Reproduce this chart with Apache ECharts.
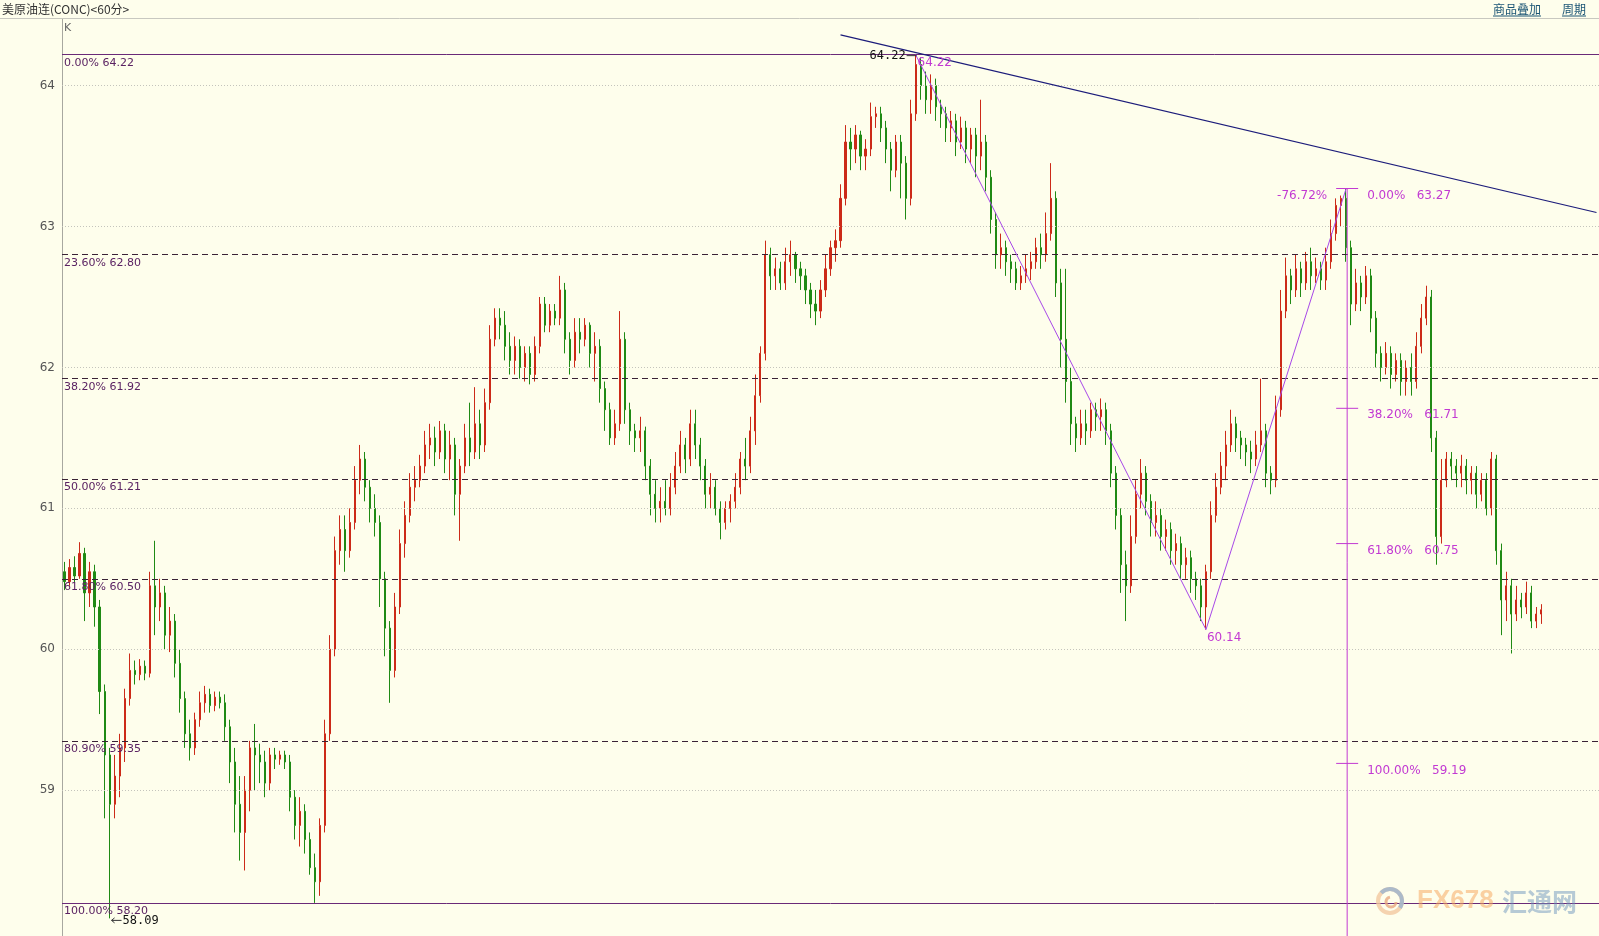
<!DOCTYPE html>
<html><head><meta charset="utf-8">
<script src="https://cdn.jsdelivr.net/npm/echarts@6/dist/echarts.min.js"></script>
<style>html,body{margin:0;padding:0;background:#fefeec;}#c{width:1599px;height:936px;}</style>
</head><body><div id="c"></div><script>
const title = '美原油连(CONC)<60分>';
const headerLinks = ['商品叠加', '周期'];
const yTicks = [59, 60, 61, 62, 63, 64];
const fibLevels = [64.22, 62.80, 61.92, 61.21, 60.50, 59.35, 58.20];
const fibPcts = ['0.00%', '23.60%', '38.20%', '50.00%', '61.80%', '80.90%', '100.00%'];
const fib2Levels = [63.27, 61.71, 60.75, 59.19];
const fib2Pcts = ['0.00%', '38.20%', '61.80%', '100.00%'];
const fib2Extra = '-76.72%';
const zigzag = [[170, 64.22], [228, 60.14], [256, 63.27]];
const trendLine = [[155, 64.36], [306, 63.10]];
const lowMark = [9, 58.09];
const peakMark = [170, 64.22];
const swingLow = [228, 60.14];
const padSlots = 11;
// [open, close, low, high]
const candles = [
[60.55,60.48,60.42,60.62],[60.48,60.58,60.45,60.64],[60.58,60.52,60.47,60.66],[60.52,60.68,60.50,60.76],[60.68,60.40,60.20,60.72],[60.40,60.55,60.30,60.62],[60.55,60.30,60.16,60.60],[60.30,59.70,59.54,60.35],
[59.70,59.25,58.80,59.75],[59.25,58.90,58.09,59.30],[58.90,59.10,58.80,59.25],[59.10,59.30,58.95,59.40],[59.30,59.65,59.20,59.72],[59.65,59.85,59.60,59.97],[59.85,59.82,59.75,59.92],[59.82,59.88,59.78,59.93],
[59.88,59.83,59.78,59.92],[59.83,60.45,59.80,60.55],[60.45,60.30,60.10,60.77],[60.30,60.40,60.20,60.50],[60.40,60.10,60.00,60.45],[60.10,60.20,59.98,60.30],[60.20,59.90,59.80,60.25],[59.90,59.65,59.55,60.00],
[59.65,59.40,59.30,59.70],[59.40,59.30,59.21,59.50],[59.30,59.50,59.25,59.55],[59.50,59.62,59.45,59.70],[59.62,59.68,59.55,59.74],[59.68,59.60,59.55,59.72],[59.60,59.66,59.56,59.70],[59.66,59.62,59.58,59.70],
[59.62,59.45,59.35,59.68],[59.45,59.20,59.05,59.50],[59.20,58.90,58.70,59.30],[58.90,58.70,58.50,59.10],[58.70,59.00,58.43,59.10],[59.00,59.30,58.85,59.35],[59.30,59.25,59.00,59.47],[59.25,59.20,59.05,59.33],
[59.20,59.05,58.95,59.28],[59.05,59.25,59.00,59.30],[59.25,59.22,59.15,59.30],[59.22,59.25,59.18,59.28],[59.25,59.20,59.15,59.28],[59.20,58.95,58.85,59.25],[58.95,58.75,58.65,59.00],[58.75,58.85,58.60,58.95],
[58.85,58.65,58.55,58.90],[58.65,58.45,58.40,58.70],[58.45,58.35,58.20,58.55],[58.35,58.75,58.25,58.80],[58.75,59.40,58.70,59.50],[59.40,60.00,59.35,60.10],[60.00,60.70,59.95,60.80],[60.70,60.85,60.60,60.95],
[60.85,60.70,60.55,60.95],[60.70,60.90,60.65,61.00],[60.90,61.20,60.85,61.30],[61.20,61.35,61.10,61.45],[61.35,61.15,61.05,61.40],[61.15,61.00,60.90,61.20],[61.00,60.90,60.80,61.10],[60.90,60.50,60.30,60.95],
[60.50,60.15,59.95,60.55],[60.15,59.85,59.62,60.20],[59.85,60.30,59.80,60.40],[60.30,60.75,60.25,60.85],[60.75,60.95,60.65,61.05],[60.95,61.15,60.90,61.25],[61.15,61.20,61.05,61.30],[61.20,61.30,61.15,61.38],
[61.30,61.45,61.25,61.55],[61.45,61.50,61.35,61.60],[61.50,61.40,61.30,61.58],[61.40,61.55,61.35,61.62],[61.55,61.35,61.25,61.60],[61.35,61.45,61.20,61.55],[61.45,61.10,60.95,61.50],[61.10,61.30,60.77,61.35],
[61.30,61.50,61.25,61.60],[61.50,61.40,61.30,61.75],[61.40,61.60,61.35,61.86],[61.60,61.45,61.35,61.70],[61.45,61.75,61.40,61.85],[61.75,62.20,61.70,62.30],[62.20,62.35,62.15,62.42],[62.35,62.30,62.20,62.42],
[62.30,62.15,62.05,62.40],[62.15,62.05,61.95,62.25],[62.05,62.15,61.95,62.22],[62.15,62.00,61.92,62.20],[62.00,62.10,61.90,62.15],[62.10,61.95,61.88,62.15],[61.95,62.15,61.90,62.22],[62.15,62.45,62.10,62.50],
[62.45,62.30,62.25,62.50],[62.30,62.40,62.25,62.45],[62.40,62.35,62.30,62.45],[62.35,62.55,62.30,62.65],[62.55,62.20,62.10,62.60],[62.20,62.05,61.95,62.25],[62.05,62.25,62.00,62.35],[62.25,62.20,62.10,62.35],
[62.20,62.30,62.15,62.35],[62.30,62.10,62.00,62.32],[62.10,62.15,61.90,62.25],[62.15,61.85,61.75,62.20],[61.85,61.70,61.55,61.90],[61.70,61.50,61.45,61.75],[61.50,61.60,61.45,61.70],[61.60,62.20,61.55,62.40],
[62.20,61.70,61.60,62.25],[61.70,61.55,61.45,61.75],[61.55,61.50,61.40,61.60],[61.50,61.55,61.40,61.65],[61.55,61.30,61.20,61.58],[61.30,61.10,60.95,61.35],[61.10,61.00,60.90,61.20],[61.00,61.05,60.90,61.15],
[61.05,61.00,60.95,61.20],[61.00,61.15,60.95,61.25],[61.15,61.30,61.10,61.40],[61.30,61.45,61.25,61.55],[61.45,61.35,61.25,61.50],[61.35,61.60,61.30,61.70],[61.60,61.45,61.35,61.70],[61.45,61.30,61.20,61.50],
[61.30,61.10,61.00,61.35],[61.10,61.15,61.00,61.25],[61.15,61.00,60.95,61.20],[61.00,60.90,60.78,61.05],[60.90,61.00,60.85,61.05],[61.00,61.05,60.90,61.10],[61.05,61.15,61.00,61.25],[61.15,61.35,61.10,61.40],
[61.35,61.30,61.20,61.50],[61.30,61.55,61.25,61.65],[61.55,61.80,61.45,61.95],[61.80,62.10,61.75,62.15],[62.10,62.80,62.05,62.90],[62.80,62.65,62.55,62.85],[62.65,62.70,62.55,62.78],[62.70,62.60,62.55,62.75],
[62.60,62.75,62.55,62.85],[62.75,62.80,62.65,62.90],[62.80,62.70,62.60,62.82],[62.70,62.65,62.55,62.75],[62.65,62.55,62.45,62.70],[62.55,62.45,62.35,62.60],[62.45,62.40,62.30,62.55],[62.40,62.55,62.35,62.62],
[62.55,62.70,62.50,62.80],[62.70,62.85,62.65,62.90],[62.85,62.90,62.75,62.98],[62.90,63.20,62.85,63.30],[63.20,63.60,63.15,63.72],[63.60,63.55,63.40,63.70],[63.55,63.65,63.45,63.72],[63.65,63.50,63.40,63.68],
[63.50,63.55,63.40,63.62],[63.55,63.78,63.50,63.88],[63.78,63.80,63.70,63.85],[63.80,63.70,63.60,63.85],[63.70,63.55,63.45,63.75],[63.55,63.40,63.25,63.60],[63.40,63.60,63.35,63.65],[63.60,63.45,63.20,63.65],
[63.45,63.20,63.05,63.50],[63.20,63.80,63.15,63.90],[63.80,64.15,63.75,64.22],[64.15,64.00,63.90,64.20],[64.00,63.90,63.80,64.10],[63.90,64.00,63.80,64.08],[64.00,63.85,63.75,64.05],[63.85,63.80,63.70,63.90],
[63.80,63.70,63.60,63.85],[63.70,63.75,63.60,63.82],[63.75,63.60,63.50,63.80],[63.60,63.70,63.55,63.78],[63.70,63.55,63.45,63.75],[63.55,63.65,63.45,63.70],[63.65,63.50,63.35,63.70],[63.50,63.60,63.40,63.90],
[63.60,63.35,63.25,63.65],[63.35,63.05,62.95,63.40],[63.05,62.80,62.70,63.10],[62.80,62.85,62.70,62.95],[62.85,62.75,62.65,62.90],[62.75,62.70,62.60,62.80],[62.70,62.60,62.55,62.75],[62.60,62.65,62.55,62.72],
[62.65,62.70,62.60,62.80],[62.70,62.75,62.62,62.82],[62.75,62.85,62.70,62.92],[62.85,62.80,62.70,62.95],[62.80,62.95,62.75,63.10],[62.95,63.20,62.90,63.45],[63.20,62.60,62.50,63.25],[62.60,62.20,62.00,62.70],
[62.20,61.90,61.75,62.70],[61.90,61.60,61.45,62.00],[61.60,61.50,61.40,61.65],[61.50,61.60,61.45,61.70],[61.60,61.55,61.45,61.70],[61.55,61.70,61.50,61.75],[61.70,61.65,61.55,61.75],[61.65,61.70,61.55,61.78],
[61.70,61.55,61.45,61.75],[61.55,61.25,61.15,61.60],[61.25,60.95,60.85,61.30],[60.95,60.60,60.40,61.00],[60.60,60.45,60.20,60.70],[60.45,60.80,60.40,60.95],[60.80,61.10,60.75,61.20],[61.10,61.25,61.00,61.35],
[61.25,61.05,60.95,61.30],[61.05,60.90,60.80,61.10],[60.90,60.95,60.80,61.05],[60.95,60.80,60.70,61.00],[60.80,60.85,60.70,60.92],[60.85,60.70,60.60,60.90],[60.70,60.75,60.60,60.82],[60.75,60.60,60.50,60.80],
[60.60,60.65,60.50,60.72],[60.65,60.50,60.40,60.70],[60.50,60.45,60.35,60.55],[60.45,60.30,60.20,60.50],[60.30,60.55,60.14,60.60],[60.55,60.95,60.50,61.05],[60.95,61.15,60.90,61.25],[61.15,61.30,61.10,61.40],
[61.30,61.45,61.20,61.55],[61.45,61.60,61.40,61.70],[61.60,61.50,61.40,61.65],[61.50,61.45,61.35,61.55],[61.45,61.40,61.30,61.50],[61.40,61.35,61.25,61.48],[61.35,61.45,61.30,61.55],[61.45,61.55,61.40,61.92],
[61.55,61.25,61.15,61.60],[61.25,61.20,61.10,61.30],[61.20,61.70,61.15,61.80],[61.70,62.40,61.65,62.55],[62.40,62.65,62.35,62.78],[62.65,62.55,62.45,62.70],[62.55,62.70,62.50,62.80],[62.70,62.60,62.50,62.75],
[62.60,62.75,62.55,62.82],[62.75,62.65,62.55,62.85],[62.65,62.70,62.60,62.78],[62.70,62.62,62.55,62.75],[62.62,62.75,62.55,62.85],[62.75,62.95,62.70,63.05],[62.95,63.15,62.90,63.20],[63.15,63.20,63.00,63.22],
[63.20,62.85,62.75,63.27],[62.85,62.45,62.30,62.90],[62.45,62.60,62.40,62.70],[62.60,62.50,62.40,62.65],[62.50,62.65,62.45,62.72],[62.65,62.35,62.25,62.70],[62.35,62.10,62.00,62.40],[62.10,62.00,61.90,62.15],
[62.00,62.10,61.95,62.18],[62.10,61.95,61.85,62.15],[61.95,62.05,61.90,62.10],[62.05,61.90,61.80,62.10],[61.90,62.00,61.80,62.05],[62.00,61.90,61.80,62.10],[61.90,62.15,61.85,62.25],[62.15,62.35,62.10,62.45],
[62.35,62.50,62.30,62.58],[62.50,61.50,61.40,62.55],[61.50,60.80,60.60,61.55],[60.80,61.20,60.75,61.35],[61.20,61.35,61.15,61.40],[61.35,61.30,61.20,61.40],[61.30,61.25,61.15,61.35],[61.25,61.30,61.15,61.38],
[61.30,61.20,61.10,61.35],[61.20,61.25,61.10,61.30],[61.25,61.10,61.00,61.30],[61.10,61.20,61.05,61.25],[61.20,61.00,60.95,61.25],[61.00,61.35,60.95,61.40],[61.35,60.70,60.60,61.38],[60.70,60.35,60.10,60.75],
[60.35,60.45,60.20,60.55],[60.45,60.25,59.97,60.50],[60.25,60.35,60.20,60.45],[60.35,60.30,60.22,60.40],[60.30,60.40,60.25,60.48],[60.40,60.20,60.15,60.45],[60.20,60.25,60.15,60.30],[60.25,60.28,60.18,60.32]
];

const UP = '#cc2a18', DOWN = '#1f8a14';
const FIBC = '#5a2262', MAG = '#c23ad2', ZIG = '#a848e8', TREND = '#1c1c7a';
const nCat = candles.length + padSlots;
const cats = Array.from({length: nCat}, (_, i) => String(i));
const seriesData = candles.concat(Array(padSlots).fill('-'));

const chart = echarts.init(document.getElementById('c'), null, {renderer: 'canvas'});
const markData = [];
yTicks.forEach(v => markData.push({yAxis: v, lineStyle: {color: '#c4c4bc', type: [1, 2], width: 1}}));
fibLevels.forEach((v, i) => markData.push({yAxis: v, lineStyle: {color: (i === 0 || i === fibLevels.length - 1) ? '#6a2a78' : '#3a2236', type: (i === 0 || i === fibLevels.length - 1) ? 'solid' : [6, 4], width: 1}}));

chart.setOption({
  animation: false,
  backgroundColor: '#fefeec',
  grid: {left: 62, right: 0, top: 19, bottom: 0},
  xAxis: {type: 'category', data: cats, show: false},
  yAxis: {
    type: 'value', min: 57.965, max: 64.473, position: 'left',
    axisLine: {show: true, lineStyle: {color: '#a8a8a0'}},
    axisTick: {show: false},
    splitLine: {show: false},
    axisLabel: {customValues: yTicks, color: '#555', fontSize: 12, margin: 7, fontFamily: 'DejaVu Sans'}
  },
  series: [
    {type: 'candlestick', data: seriesData, barWidth: 1.6,
     itemStyle: {color: UP, color0: DOWN, borderColor: UP, borderColor0: DOWN, borderWidth: 1},
     markLine: {silent: true, symbol: 'none', label: {show: false}, data: markData}},
    {type: 'line', data: zigzag, symbol: 'none', lineStyle: {color: ZIG, width: 1}, z: 5},
    {type: 'line', data: trendLine, symbol: 'none', lineStyle: {color: TREND, width: 1.2}, z: 5}
  ]
});

const P = (i, v) => chart.convertToPixel({xAxisIndex: 0, yAxisIndex: 0}, [i, v]);
const g = [];
const txt = (t, x, y, font, fill, align) => g.push({type: 'text', silent: true, z: 100, style: {text: t, x: x, y: y, font: font, fill: fill, textAlign: align || 'left', textVerticalAlign: 'middle'}});
const ln = (x1, y1, x2, y2, c, w) => g.push({type: 'line', silent: true, z: 90, shape: {x1, y1, x2, y2}, style: {stroke: c, lineWidth: w || 1}});

// header
ln(0, 18.5, 1599, 18.5, '#c8c8c0');
txt(title, 2, 9, '12px "Noto Sans CJK SC"', '#333');
txt(headerLinks[0], 1493, 9, '12px "Noto Sans CJK SC"', '#1a5474');
ln(1493, 16, 1541, 16, '#1a5474');
txt(headerLinks[1], 1562, 9, '12px "Noto Sans CJK SC"', '#1a5474');
ln(1562, 16, 1586, 16, '#1a5474');
txt('K', 64, 28, '11px "DejaVu Sans"', '#666');

// left fib labels
fibLevels.forEach((v, i) => {
  const y = P(0, v)[1];
  txt(fibPcts[i] + ' ' + v.toFixed(2), 64, y + 8, '11px "DejaVu Sans"', FIBC);
});

// peak labels
const pk = P(peakMark[0], peakMark[1]);
txt(peakMark[1].toFixed(2), pk[0] - 10, pk[1] + 1, '12px "DejaVu Sans Mono"', '#111', 'right');
ln(pk[0] - 9, pk[1] + 1, pk[0] + 1, pk[1] + 1, '#333');
txt(peakMark[1].toFixed(2), pk[0] + 2, pk[1] + 8, '12px "DejaVu Sans"', MAG);

// low arrow label
const lw = P(lowMark[0], lowMark[1]);
ln(lw[0] + 2, lw[1] + 2, lw[0] + 12, lw[1] + 2, '#333');
ln(lw[0] + 2, lw[1] + 2, lw[0] + 5, lw[1] - 0.5, '#333');
ln(lw[0] + 2, lw[1] + 2, lw[0] + 5, lw[1] + 4.5, '#333');
txt(lowMark[1].toFixed(2), lw[0] + 13, lw[1] + 2, '12px "DejaVu Sans Mono"', '#111');

// swing low label
const sl = P(swingLow[0], swingLow[1]);
txt(swingLow[1].toFixed(2), sl[0] + 1, sl[1] + 8, '12px "DejaVu Sans"', MAG);

// right fib tool
const fTop = P(zigzag[2][0], fib2Levels[0]);
const vx = fTop[0] + 1;
ln(vx, fTop[1], vx, 936, MAG);
fib2Levels.forEach((v, i) => {
  const y = P(0, v)[1];
  ln(vx - 11, y, vx + 11, y, MAG);
  txt(fib2Pcts[i] + '   ' + v.toFixed(2), vx + 20, y + 7, '12px "DejaVu Sans"', MAG);
});
txt(fib2Extra, vx - 20, fTop[1] + 7, '12px "DejaVu Sans"', MAG, 'right');

// watermark
g.push({type: 'circle', silent: true, z: 80, shape: {cx: 1390, cy: 901, r: 12}, style: {fill: 'none', stroke: '#f3c8a0', lineWidth: 4, opacity: 0.8}});
g.push({type: 'arc', silent: true, z: 81, shape: {cx: 1390, cy: 901, r: 12, startAngle: -2.4, endAngle: 0.6}, style: {fill: 'none', stroke: '#9ab4d0', lineWidth: 4, opacity: 0.8}});
g.push({type: 'arc', silent: true, z: 81, shape: {cx: 1391, cy: 902, r: 5, startAngle: 0, endAngle: 4.5}, style: {fill: 'none', stroke: '#e8a880', lineWidth: 3, opacity: 0.8}});
txt('FX678', 1417, 901, 'bold 26px "Liberation Sans"', 'rgba(246,170,100,0.55)');
txt('汇通网', 1502, 901, 'bold 25px "Noto Sans CJK SC"', 'rgba(110,150,190,0.5)');

chart.setOption({graphic: g});
</script></body></html>
